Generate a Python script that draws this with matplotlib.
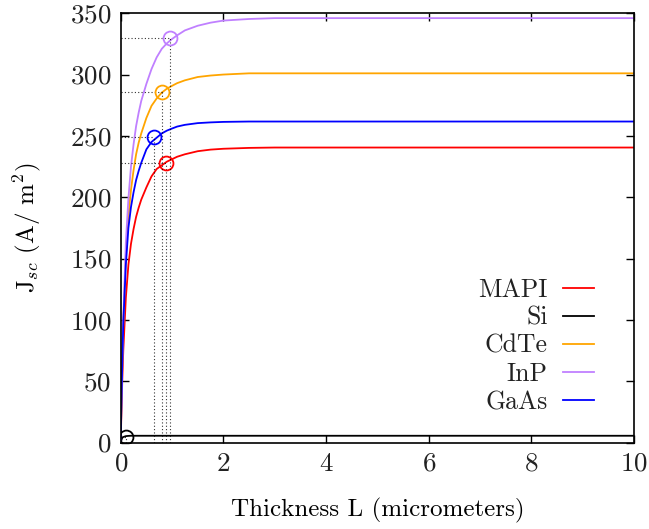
import matplotlib
matplotlib.use("Agg")
import matplotlib.pyplot as plt

plt.rcParams['font.family'] = ['cmr10', 'DejaVu Serif']
plt.rcParams['mathtext.fontset'] = 'cm'
plt.rcParams['axes.formatter.use_mathtext'] = True
plt.rcParams['text.color'] = '#222222'
plt.rcParams['xtick.labelcolor'] = '#222222'
plt.rcParams['ytick.labelcolor'] = '#222222'

# Thickness samples (micrometers)
L = [0, 0.01, 0.03, 0.05, 0.1, 0.15, 0.2, 0.25, 0.3, 0.35, 0.4, 0.5, 0.6, 0.7, 0.8, 0.9, 1.0, 1.1,
     1.25, 1.5, 1.75, 2, 2.5, 3, 4, 5, 6, 8, 10]

mapi = [0, 18, 50, 75, 118, 145, 162, 174, 184, 191.5, 198, 208, 217, 223, 226, 229, 231, 233,
        235, 237.5, 238.8, 239.5, 240.2, 240.5, 240.5, 240.5, 240.5, 240.5, 240.5]
si = [0, 2, 3.8, 4.5, 5.2, 5.4, 5.5, 5.5, 5.5, 5.5, 5.5, 5.5, 5.5, 5.5, 5.5, 5.5, 5.5, 5.5,
      5.5, 5.5, 5.5, 5.5, 5.5, 5.5, 5.5, 5.5, 5.5, 5.5, 5.5]
cdte = [0, 24, 64, 98, 152, 185, 206, 222, 235, 244.5, 252, 264.6, 274.5, 280.5, 285.3, 288.5, 290.8, 293,
        295.3, 298, 299.2, 300, 301, 301, 301, 301, 301, 301, 301]
inp = [0, 24, 65, 100, 163, 199, 225, 243, 258, 269, 278.5, 292.4, 304.5, 314, 321, 325.5, 329, 332,
       336, 339.8, 342.3, 344, 345.3, 346, 346, 346, 346, 346, 346]
gaas = [0, 24, 64, 97, 145, 175, 192, 204, 214, 221.5, 228, 239, 245, 248.5, 252, 254.3, 256, 257.6,
        259, 260.4, 261, 261.4, 261.7, 261.7, 261.7, 261.7, 261.7, 261.7, 261.7]

names = ['MAPI', 'Si', 'CdTe', 'InP', 'GaAs']
colors = ['#ff0000', '#000000', '#ffa500', '#c080ff', '#0000ff']

# Marked points (thickness, Jsc)
mark_L = [0.877, 0.10, 0.80, 0.96, 0.655]
mark_J = [228.2, 4.5, 286, 329.7, 249]

series = [mapi, si, cdte, inp, gaas]

fig = plt.figure(figsize=(6.49, 5.29), dpi=100)
ax = fig.add_axes([0.186, 0.1635, 0.791, 0.8115])

for y, c, n in zip(series, colors, names):
    ax.plot(L, y, color=c, lw=1.3, label=n)

for xm, ym, c in zip(mark_L, mark_J, colors):
    ax.plot([0, xm], [ym, ym], ls=(0, (1, 2)), color='black', lw=0.8, alpha=0.8)
    ax.plot([xm, xm], [0, ym], ls=(0, (1, 2)), color='black', lw=0.8, alpha=0.8)
    ax.plot([xm], [ym], marker='o', ms=10, mfc='none', mec=c, mew=1.3)

ax.set_xlim(0, 10)
ax.set_ylim(0, 350)
ax.set_xticks([0, 2, 4, 6, 8, 10])
ax.set_yticks(range(0, 351, 50))
ax.tick_params(direction='in', top=True, right=True, length=6, width=1, labelsize=19.5, pad=7)
for s in ax.spines.values():
    s.set_linewidth(1.2)

ax.set_xlabel('Thickness L (micrometers)', fontsize=18, labelpad=16)
ax.set_ylabel(r'J$_{sc}$ (A/ m$^2$)', fontsize=18, labelpad=19)

ax.legend(loc='lower right', bbox_to_anchor=(0.921, 0.066), frameon=False, markerfirst=False,
          fontsize=18.5, handlelength=1.17, labelspacing=0.17, handletextpad=0.62, borderpad=0,
          borderaxespad=0)

fig.savefig('out.png', dpi=100)
